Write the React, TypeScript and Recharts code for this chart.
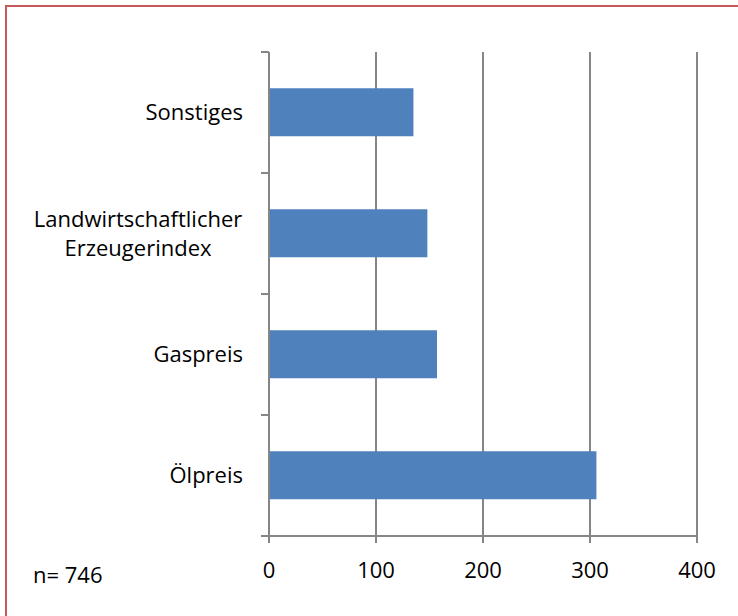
import { BarChart, Bar, XAxis, YAxis, CartesianGrid } from "recharts";

const categories = ["Sonstiges", "Landwirtschaftlicher Erzeugerindex", "Gaspreis", "Ölpreis"];
const counts = [135, 148, 157, 306];
const xTicks = [0, 100, 200, 300, 400];
const sampleNote = "n= 746";

const GRAY = "#868686";
const FONT = "'Open Sans', sans-serif";
const TICK_SIZE = 8;
const TICK_MARGIN = 18;

const data = categories.map((name, i) => ({ name, value: counts[i] }));

function CategoryTick(props: any) {
  const { x, y, payload, index, height, visibleTicksCount } = props;
  const band = height / visibleTicksCount;
  const axisX = x + TICK_MARGIN + TICK_SIZE;
  const label: string = payload.value;
  const lines = label.length > 15 ? label.split(" ") : [label];
  const lh = 29;
  const start = -((lines.length - 1) * lh) / 2;
  return (
    <g>
      <line x1={axisX - TICK_SIZE} x2={axisX} y1={y - band / 2} y2={y - band / 2} stroke={GRAY} strokeWidth={2} />
      {index === visibleTicksCount - 1 && (
        <line x1={axisX - TICK_SIZE} x2={axisX} y1={y + band / 2} y2={y + band / 2} stroke={GRAY} strokeWidth={2} />
      )}
      <text x={x} y={y} textAnchor="end" fill="#000" fontSize={22} fontFamily={FONT}>
        {lines.map((ln, i) => (
          <tspan key={i} x={lines.length > 1 ? x - 105 : x} textAnchor={lines.length > 1 ? "middle" : "end"} y={y + start + i * lh} dy="0.35em">
            {ln}
          </tspan>
        ))}
      </text>
    </g>
  );
}

export default function App() {
  return (
    <div style={{ position: "absolute", left: 0, top: 0, width: 738, height: 616, overflow: "hidden", background: "#fff" }}>
      <div
        style={{
          position: "absolute",
          left: 5,
          top: 5,
          width: 760,
          height: 640,
          border: "2px solid #c9585a",
        }}
      />
      <BarChart
        width={738}
        height={616}
        data={data}
        layout="vertical"
        margin={{ top: 52, right: 41, bottom: 40, left: 0 }}
        barCategoryGap="30%"
        style={{ position: "absolute", left: 0, top: 0 }}
      >
        <CartesianGrid horizontal={false} stroke={GRAY} strokeWidth={2} strokeDasharray="" />
        <XAxis
          type="number"
          domain={[0, 400]}
          ticks={xTicks}
          height={40}
          stroke={GRAY}
          strokeWidth={2}
          tickSize={7}
          tickMargin={19}
          tick={{ fill: "#000", fontSize: 22, fontFamily: FONT }}
        />
        <YAxis
          type="category"
          dataKey="name"
          width={269}
          stroke={GRAY}
          strokeWidth={2}
          tickLine={false}
          tickSize={TICK_SIZE}
          tickMargin={TICK_MARGIN}
          interval={0}
          tick={<CategoryTick />}
        />
        <Bar dataKey="value" fill="#4f81bd" isAnimationActive={false} />
      </BarChart>
      <div
        style={{
          position: "absolute",
          left: 33,
          top: 559,
          fontSize: 22,
          lineHeight: "30px",
          fontFamily: FONT,
          color: "#000",
          whiteSpace: "pre",
        }}
      >
        {sampleNote}
      </div>
    </div>
  );
}
